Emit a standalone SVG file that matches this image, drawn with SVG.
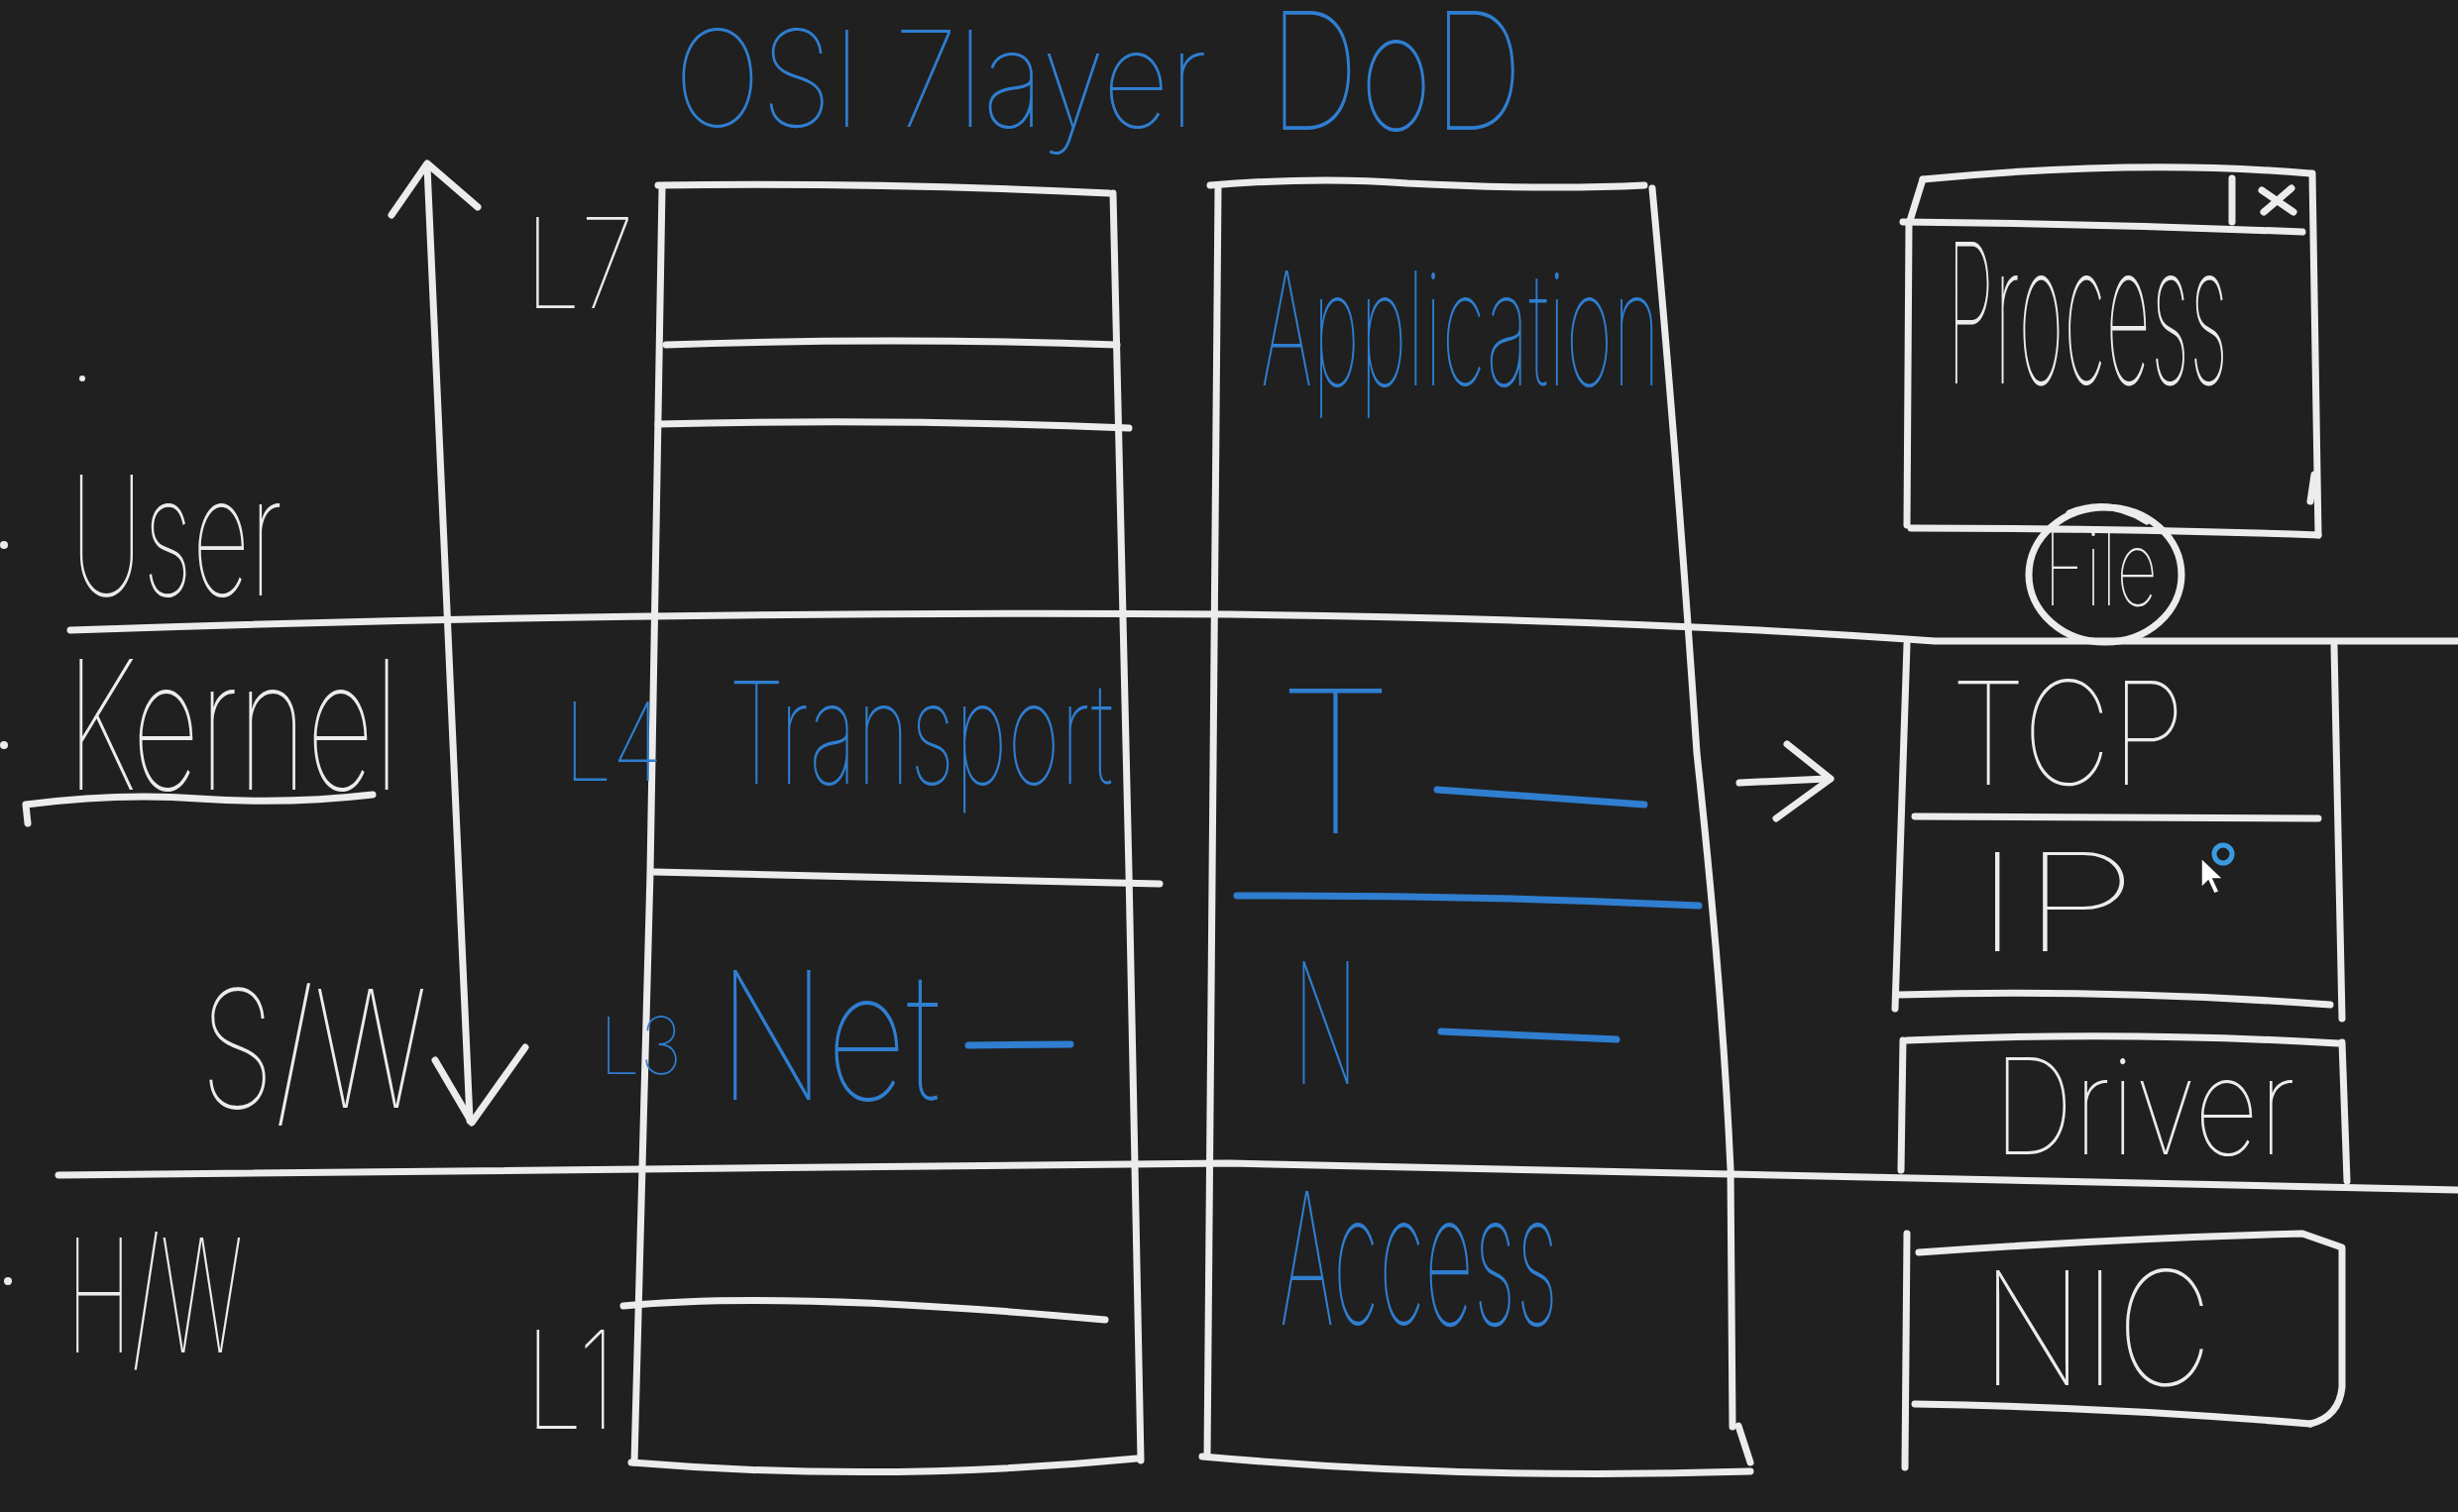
<svg xmlns="http://www.w3.org/2000/svg" width="2480" height="1526" viewBox="0 0 2480 1526">
<style>
.w{stroke:#ececec;stroke-width:7;fill:none;stroke-linecap:round;stroke-linejoin:round}
.b{stroke:#2f7ed0;stroke-width:7;fill:none;stroke-linecap:round;stroke-linejoin:round}
.tw{fill:#ececec;font-family:Inter,"Open Sans","Liberation Sans",sans-serif;font-weight:100}
.tb{fill:#2f7ed0;font-family:Inter,"Open Sans","Liberation Sans",sans-serif;font-weight:100}
.dot{fill:#ececec}
</style>
<rect x="0" y="0" width="2480" height="1526" fill="#202020"/>

<g id="title">
<text class="tb" x="680" y="128" font-size="135" textLength="538" lengthAdjust="spacingAndGlyphs">OSI 7layer</text>
<text class="tb" x="1280" y="131" font-size="165" textLength="257" lengthAdjust="spacingAndGlyphs">DoD</text>
</g>

<g id="side-labels">
<circle class="dot" cx="4" cy="550" r="4"/>
<circle class="dot" cx="4" cy="752" r="4"/>
<circle class="dot" cx="8" cy="1293" r="4"/>
<circle class="dot" cx="83" cy="382" r="3"/>
<text class="tw" x="71" y="601" font-size="168" textLength="214" lengthAdjust="spacingAndGlyphs">User</text>
<text class="tw" x="67" y="797" font-size="182" textLength="336" lengthAdjust="spacingAndGlyphs">Kernel</text>
<path class="w" d="M28,831 L26,812 Q120,800 200,806 Q290,812 376,802"/>
<text class="tw" x="202" y="1118" font-size="165" textLength="229" lengthAdjust="spacingAndGlyphs">S/W</text>
<text class="tw" x="67" y="1365" font-size="160" textLength="178" lengthAdjust="spacingAndGlyphs">H/W</text>
<text class="tw" x="530" y="311" font-size="126" textLength="110" lengthAdjust="spacingAndGlyphs">L7</text>
<text class="tw" x="530" y="1442" font-size="137" textLength="91" lengthAdjust="spacingAndGlyphs">L1</text>
</g>

<g id="osi-stack">
<path class="w" d="M664,187 Q890,184 1119,195"/>
<path class="w" d="M668,190 L656,880 L640,1476"/>
<path class="w" d="M1123,195 L1139,880 L1151,1474"/>
<path class="w" d="M637,1476 Q890,1497 1147,1472"/>
<path class="w" d="M672,348 Q900,340 1127,348"/>
<path class="w" d="M664,428 Q900,422 1139,432"/>
<path class="w" d="M660,880 Q900,886 1170,892"/>
<path class="w" d="M629,1318 Q790,1302 1115,1332"/>
<text class="tb" x="569" y="788" font-size="110" textLength="100" lengthAdjust="spacingAndGlyphs">L4</text>
<text class="tb" x="735" y="791" font-size="143" textLength="388" lengthAdjust="spacingAndGlyphs">Transport</text>
<text class="tb" x="605" y="1084" font-size="80" textLength="83" lengthAdjust="spacingAndGlyphs">L3</text>
<text class="tb" x="724" y="1110" font-size="180" textLength="225" lengthAdjust="spacingAndGlyphs">Net</text>
<path class="b" d="M977,1055 L1080,1054"/>
</g>

<g id="dod-stack">
<path class="w" d="M1221,187 Q1330,178 1420,185 Q1560,192 1659,187"/>
<path class="w" d="M1229,190 L1218,1470"/>
<path class="w" d="M1667,190 Q1692,460 1712,760 Q1738,1000 1746,1180 L1748,1440"/>
<path class="w" d="M1754,1439 L1766,1476"/>
<path class="w" d="M1213,1470 Q1480,1494 1766,1485"/>
<text class="tb" x="1272" y="389" font-size="160" textLength="403" lengthAdjust="spacingAndGlyphs">Application</text>
<text class="tb" x="1289" y="841" font-size="200" textLength="117" lengthAdjust="spacingAndGlyphs">T</text>
<path class="b" d="M1450,797 L1659,812"/>
<path class="b" d="M1248,904 Q1480,903 1714,914"/>
<text class="tb" x="1305" y="1094" font-size="170" textLength="65" lengthAdjust="spacingAndGlyphs">N</text>
<path class="b" d="M1454,1041 L1631,1049"/>
<text class="tb" x="1291" y="1337" font-size="186" textLength="281" lengthAdjust="spacingAndGlyphs">Access</text>
</g>

<g id="process">
<path class="w" d="M1940,181 Q2157,160 2331,175"/>
<path class="w" d="M2333,175 L2339,540"/>
<path class="w" d="M1928,533 Q2150,533 2339,540"/>
<path class="w" d="M1940,181 L1926,226 L1924,530"/>
<path class="w" d="M1920,224 Q2120,226 2323,234"/>
<path class="w" d="M2252,180 L2252,224"/>
<path class="w" d="M2282,192 L2314,214 M2284,214 L2312,190"/>
<path class="w" d="M2335,479 L2331,506"/>
<text class="tw" x="1964" y="387" font-size="197" textLength="284" lengthAdjust="spacingAndGlyphs">Process</text>
</g>

<g id="file">
<ellipse class="w" cx="2124" cy="580" rx="77" ry="68"/>
<path class="w" d="M2088,518 Q2128,502 2166,526"/>
<text class="tw" x="2062" y="611" font-size="104" textLength="115" lengthAdjust="spacingAndGlyphs">File</text>
</g>

<g id="tcpip">
<path class="w" d="M1924,650 L1912,1018"/>
<path class="w" d="M2355,652 L2363,1028"/>
<path class="w" d="M1932,824 L2339,826"/>
<path class="w" d="M1916,1004 Q2130,998 2351,1014"/>
<text class="tw" x="1968" y="792" font-size="145" textLength="237" lengthAdjust="spacingAndGlyphs">TCP</text>
<text class="tw" x="1991" y="960" font-size="137" textLength="166" lengthAdjust="spacingAndGlyphs">IP</text>
</g>

<g id="driver">
<path class="w" d="M1924,1050 Q2140,1040 2359,1053"/>
<path class="w" d="M1920,1050 L1918,1181"/>
<path class="w" d="M2363,1052 L2368,1192"/>
<text class="tw" x="2011" y="1165" font-size="135" textLength="305" lengthAdjust="spacingAndGlyphs">Driver</text>
</g>

<g id="nic">
<path class="w" d="M1924,1245 L1922,1481"/>
<path class="w" d="M1936,1264 Q2130,1250 2323,1245 L2363,1259 L2363,1400 Q2360,1430 2331,1437"/>
<path class="w" d="M1932,1417 Q2130,1420 2331,1437"/>
<text class="tw" x="1999" y="1398" font-size="160" textLength="233" lengthAdjust="spacingAndGlyphs">NIC</text>
</g>

<g id="connectors">
<path class="w" d="M71,636 Q650,616 1240,620 Q1650,625 1952,647 L2480,647"/>
<path class="w" d="M59,1186 Q650,1178 1240,1174 Q1750,1184 2480,1201"/>
<path class="w" d="M431,168 L474,1131"/>
<path class="w" d="M395,217 L431,165 L482,209"/>
<path class="w" d="M439,1070 L476,1133 L530,1057"/>
<path class="w" d="M1755,790 L1843,786"/>
<path class="w" d="M1803,751 L1847,786 L1792,826"/>
</g>

<g id="cursor">
<polygon points="2221,866 2221,896 2228,889 2234,902 2239,900 2233,887 2243,887" fill="#ffffff" stroke="#202020" stroke-width="1.5"/>
<circle cx="2243" cy="862" r="9" fill="none" stroke="#3a9ae0" stroke-width="5"/>
</g>
</svg>
